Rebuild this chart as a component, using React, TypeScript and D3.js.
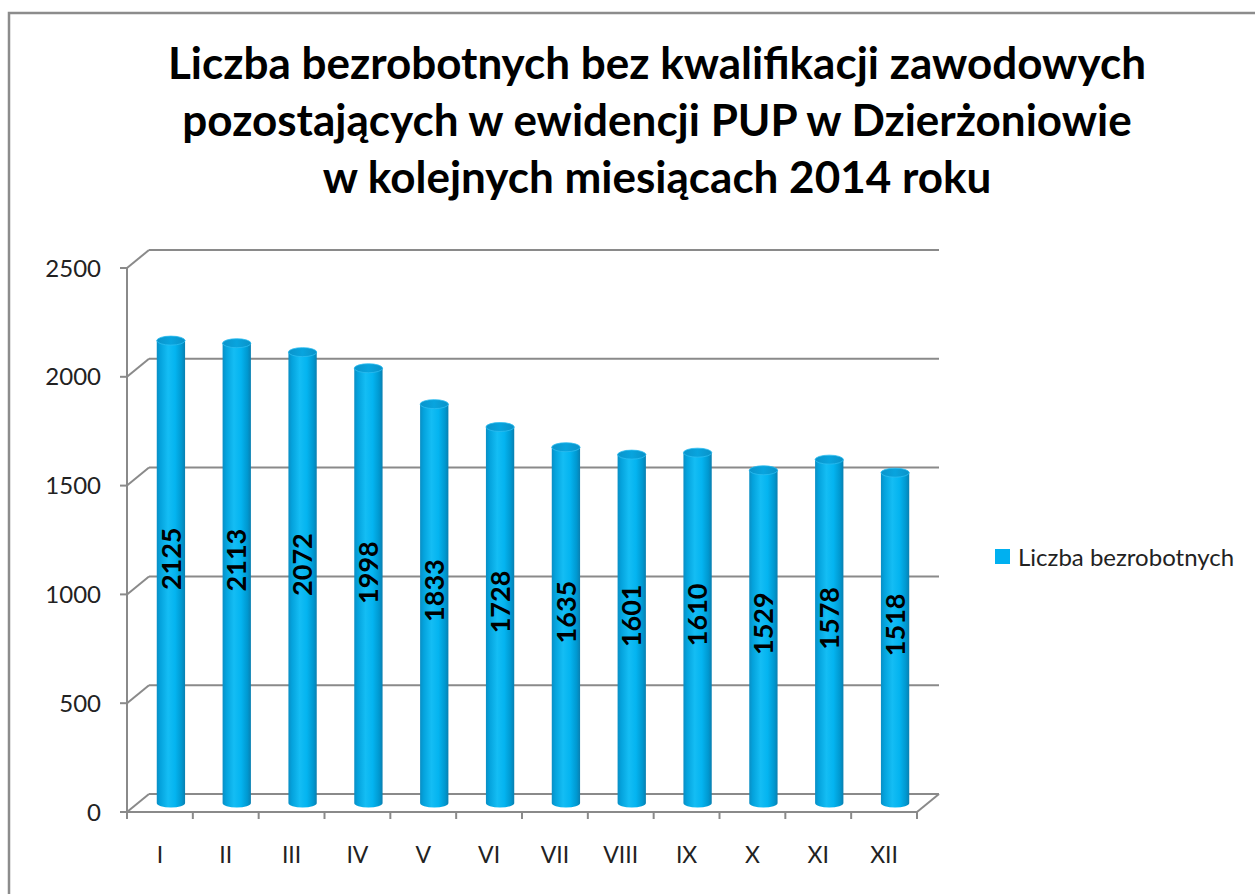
import React, { useEffect } from "react";
import * as d3 from "d3";

const months = ["I", "II", "III", "IV", "V", "VI", "VII", "VIII", "IX", "X", "XI", "XII"];
const values = [2125, 2113, 2072, 1998, 1833, 1728, 1635, 1601, 1610, 1529, 1578, 1518];
const yTicks = [0, 500, 1000, 1500, 2000, 2500];
const titleLines = [
  "Liczba bezrobotnych bez kwalifikacji zawodowych",
  "pozostających w ewidencji PUP w Dzierżoniowie",
  "w kolejnych miesiącach 2014 roku",
];
const seriesName = "Liczba bezrobotnych";

const W = 1255;
const H = 894;
const DX = 22;
const DY = -18;
const FONT = "Lato, 'Open Sans', sans-serif";
const GRID = "#8a8a8a";

export default function App() {
  useEffect(() => {
    document.body.style.margin = "0";
  }, []);

  const x = d3.scaleBand<string>().domain(months).range([127, 917]).paddingInner(0).paddingOuter(0);
  const y = d3.scaleLinear().domain([0, 2500]).range([812, 268]);
  const bw = x.bandwidth();
  const cylW = bw * 0.43;
  const rx = cylW / 2;
  const ry = 4.5;
  const x0 = 127;
  const x1 = 917;

  return (
    <svg width={W} height={H} style={{ display: "block", background: "#fff" }}>
      <defs>
        <linearGradient id="cylBody" x1="0" x2="1" y1="0" y2="0">
          <stop offset="0%" stopColor="#0a8ec4" />
          <stop offset="12%" stopColor="#04a2dc" />
          <stop offset="40%" stopColor="#14bdf4" />
          <stop offset="65%" stopColor="#04b4f0" />
          <stop offset="88%" stopColor="#0098d0" />
          <stop offset="100%" stopColor="#0a7fb0" />
        </linearGradient>
        <linearGradient id="cylTop" x1="0" x2="1" y1="0" y2="0">
          <stop offset="0%" stopColor="#0a94cb" />
          <stop offset="50%" stopColor="#08a4de" />
          <stop offset="100%" stopColor="#0a92c8" />
        </linearGradient>
      </defs>
      {/* outer border */}
      <rect x={9} y={13} width={W + 20} height={H + 20} fill="none" stroke="#8c8c8c" strokeWidth={2.5} />

      {/* title */}
      {titleLines.map((t, i) => (
        <text
          key={i}
          x={657}
          y={79 + i * 57}
          textAnchor="middle"
          fontFamily={FONT}
          fontWeight="bold"
          fontSize={44}
          fill="#000"
        >
          {t}
        </text>
      ))}

      {/* gridlines: side diagonal + back wall */}
      {yTicks.map((t) => (
        <g key={t}>
          <line x1={x0} y1={y(t)} x2={x0 + DX} y2={y(t) + DY} stroke={GRID} strokeWidth={2} />
          <line x1={x0 + DX} y1={y(t) + DY} x2={x1 + DX} y2={y(t) + DY} stroke={GRID} strokeWidth={2} />
        </g>
      ))}
      {/* floor */}
      <line x1={x0} y1={y(0)} x2={x1} y2={y(0)} stroke={GRID} strokeWidth={2} />
      <line x1={x1} y1={y(0)} x2={x1 + DX} y2={y(0) + DY} stroke={GRID} strokeWidth={2} />

      {/* y axis */}
      <line x1={x0} y1={y(0)} x2={x0} y2={y(2500)} stroke={GRID} strokeWidth={2} />
      {yTicks.map((t) => (
        <g key={"yt" + t}>
          <line x1={x0 - 7} y1={y(t)} x2={x0} y2={y(t)} stroke={GRID} strokeWidth={2} />
          <text
            x={101}
            y={y(t)}
            dy="0.36em"
            textAnchor="end"
            fontFamily={FONT}
            fontSize={24}
            fill="#222"
          >
            {t}
          </text>
        </g>
      ))}

      {/* x axis ticks */}
      {[...months.map((m) => x(m) as number), x1].map((px, i) => (
        <line key={"xt" + i} x1={px} y1={y(0)} x2={px} y2={y(0) + 7} stroke={GRID} strokeWidth={2} />
      ))}
      {months.map((m) => (
        <text
          key={"xl" + m}
          x={(x(m) as number) + bw / 2}
          y={855}
          dy="0.36em"
          textAnchor="middle"
          fontFamily={FONT}
          fontSize={23}
          fill="#222"
        >
          {m}
        </text>
      ))}

      {/* cylinders */}
      {months.map((m, i) => {
        const v = values[i];
        const cx = (x(m) as number) + bw / 2 + DX / 2;
        const yb = y(0) + DY / 2;
        const yt = y(v) + DY / 2;
        const body = `M${cx - rx},${yt} L${cx - rx},${yb} A${rx},${ry} 0 0 0 ${cx + rx},${yb} L${cx + rx},${yt} Z`;
        return (
          <g key={"c" + m}>
            <path d={body} fill="url(#cylBody)" />
            <ellipse cx={cx} cy={yt} rx={rx} ry={ry} fill="url(#cylTop)" stroke="#2cbcf0" strokeWidth={0.8} />
            <text
              transform={`translate(${cx},${(yt + yb) / 2 - 13}) rotate(-90)`}
              textAnchor="middle"
              dy="0.36em"
              fontFamily={FONT}
              fontWeight="bold"
              fontSize={27}
              fill="#000"
            >
              {v}
            </text>
          </g>
        );
      })}

      {/* legend */}
      <rect x={995} y={549} width={15} height={15} fill="#00b0f0" />
      <text x={1018} y={557} dy="0.36em" fontFamily={FONT} fontSize={24} fill="#222">
        {seriesName}
      </text>
    </svg>
  );
}
